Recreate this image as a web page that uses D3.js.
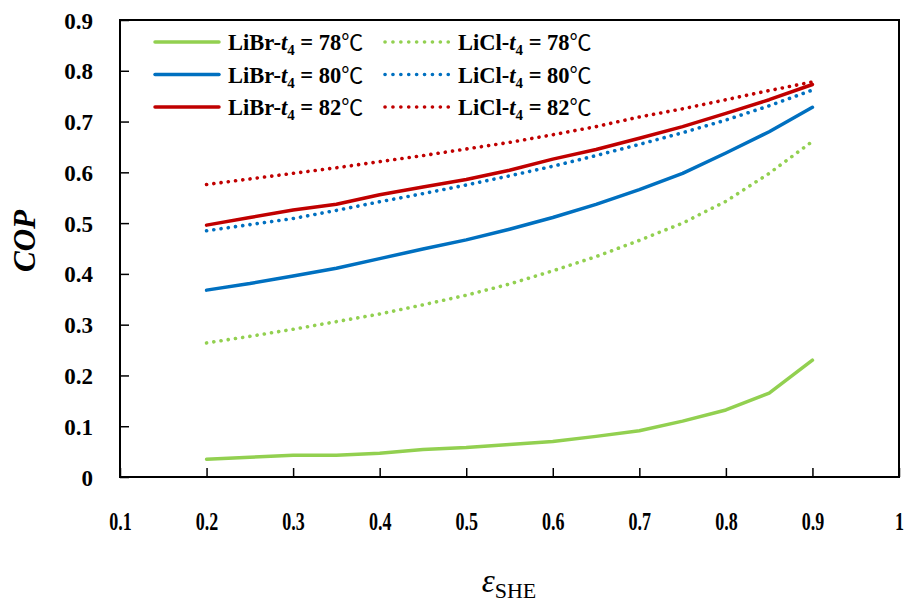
<html>
<script src="https://d3js.org/d3.v7.min.js"></script>
<style>
  body { margin: 0; background: #fff; }
  text { font-family: "Liberation Serif", "Times New Roman", serif; font-weight: bold; fill: #000; }
</style>
<body>
<svg width="907" height="604"></svg>
<script>
// values
var xVals = [0.2, 0.25, 0.3, 0.35, 0.4, 0.45, 0.5, 0.55, 0.6, 0.65, 0.7, 0.75, 0.8, 0.85, 0.9];
var libr78 = [0.035, 0.039, 0.043, 0.043, 0.047, 0.054, 0.058, 0.064, 0.070, 0.080, 0.091, 0.110, 0.132, 0.165, 0.230];
var libr80 = [0.368, 0.381, 0.396, 0.411, 0.430, 0.449, 0.467, 0.488, 0.511, 0.537, 0.566, 0.598, 0.638, 0.680, 0.728];
var libr82 = [0.496, 0.511, 0.526, 0.537, 0.556, 0.571, 0.586, 0.604, 0.626, 0.645, 0.667, 0.690, 0.716, 0.743, 0.773];
var licl78 = [0.264, 0.277, 0.291, 0.306, 0.321, 0.339, 0.358, 0.380, 0.406, 0.434, 0.466, 0.500, 0.543, 0.598, 0.661];
var licl80 = [0.485, 0.497, 0.509, 0.525, 0.542, 0.558, 0.575, 0.593, 0.612, 0.633, 0.655, 0.678, 0.703, 0.731, 0.762];
var licl82 = [0.576, 0.587, 0.598, 0.609, 0.621, 0.633, 0.646, 0.659, 0.674, 0.690, 0.709, 0.725, 0.743, 0.761, 0.778];
var xTicks = [0.1, 0.2, 0.3, 0.4, 0.5, 0.6, 0.7, 0.8, 0.9, 1];
var yTicks = [0, 0.1, 0.2, 0.3, 0.4, 0.5, 0.6, 0.7, 0.8, 0.9];

var series = [
  {salt: "LiBr", temp: "78", vals: libr78, color: "#92D050", dotted: false},
  {salt: "LiBr", temp: "80", vals: libr80, color: "#0070C0", dotted: false},
  {salt: "LiBr", temp: "82", vals: libr82, color: "#C00000", dotted: false},
  {salt: "LiCl", temp: "78", vals: licl78, color: "#92D050", dotted: true},
  {salt: "LiCl", temp: "80", vals: licl80, color: "#0070C0", dotted: true},
  {salt: "LiCl", temp: "82", vals: licl82, color: "#C00000", dotted: true}
];

var margin = {left: 120, right: 8, top: 20, bottom: 127};
var W = 907 - margin.left - margin.right, H = 604 - margin.top - margin.bottom;

var x = d3.scaleLinear().domain([0.1, 1]).range([0, W]);
var y = d3.scaleLinear().domain([0, 0.9]).range([H, 0]);

var svg = d3.select("svg").append("g").attr("transform", "translate(" + margin.left + "," + margin.top + ")");

// axes, ticks point inward
var yAxis = d3.axisLeft(y).tickValues(yTicks).tickSizeInner(-9).tickSizeOuter(0).tickPadding(27)
  .tickFormat(function(d) { return d === 0 ? "0" : d.toFixed(1); });
var gy = svg.append("g").call(yAxis);
gy.select(".domain").remove();
gy.selectAll("line").attr("stroke", "#000").attr("stroke-width", 1.5);
gy.selectAll("text").style("font-size", "23px").attr("dy", "0.35em");

var xAxis = d3.axisBottom(x).tickValues(xTicks).tickSizeInner(-9).tickSizeOuter(0).tickPadding(35)
  .tickFormat(function(d) { return d === 1 ? "1" : d.toFixed(1); });
var gx = svg.append("g").attr("transform", "translate(0," + H + ")").call(xAxis);
gx.select(".domain").remove();
gx.selectAll("line").attr("stroke", "#000").attr("stroke-width", 1.5);
gx.selectAll("text").style("font-size", "25px").attr("transform", "scale(0.72,1)");

// plot border
svg.append("rect").attr("x", 0).attr("y", 0).attr("width", W).attr("height", H)
  .attr("fill", "none").attr("stroke", "#000").attr("stroke-width", 2);

var line = d3.line()
  .x(function(d, i) { return x(xVals[i]); })
  .y(function(d) { return y(d); });

series.forEach(function(s) {
  var p = svg.append("path")
    .attr("d", line(s.vals))
    .attr("fill", "none")
    .attr("stroke", s.color)
    .attr("stroke-linecap", "round")
    .attr("stroke-linejoin", "round");
  if (s.dotted) p.attr("stroke-width", 3.6).attr("stroke-dasharray", "0.1 7.2");
  else p.attr("stroke-width", 3.5);
});

// legend
var legend = d3.select("svg").append("g");
series.forEach(function(s, i) {
  var col = s.dotted ? 1 : 0, row = i % 3;
  var lx = col === 0 ? 155 : 385, ly = 42 + row * 32.5;
  var l = legend.append("line").attr("x1", lx).attr("x2", lx + 64).attr("y1", ly).attr("y2", ly)
    .attr("stroke", s.color).attr("stroke-linecap", "round");
  if (s.dotted) l.attr("stroke-width", 3.6).attr("stroke-dasharray", "0.1 7.8");
  else l.attr("stroke-width", 3.5);
  var t = legend.append("text").attr("x", lx + 73).attr("y", ly + 8).style("font-size", "22.5px");
  t.append("tspan").text(s.salt + "-");
  t.append("tspan").style("font-style", "italic").text("t");
  t.append("tspan").attr("dy", 5).style("font-size", "15px").text("4");
  t.append("tspan").attr("dy", -5).text(" = " + s.temp);
  t.append("tspan").style("font-family", "'Noto Sans CJK SC', sans-serif").style("font-weight", "normal")
    .style("font-size", "22px").text("\u2103");
});

// axis titles
d3.select("svg").append("text")
  .attr("transform", "translate(35,241) rotate(-90)")
  .attr("text-anchor", "middle")
  .style("font-size", "31px").style("font-style", "italic")
  .text("COP");

var xt = d3.select("svg").append("text").attr("x", 509).attr("y", 592).attr("text-anchor", "middle");
xt.append("tspan").style("font-size", "33px").style("font-style", "italic").style("font-weight", "normal").text("\u03b5");
xt.append("tspan").attr("dy", 6).style("font-size", "22px").style("font-weight", "normal").text("SHE");
</script>
</body>
</html>
